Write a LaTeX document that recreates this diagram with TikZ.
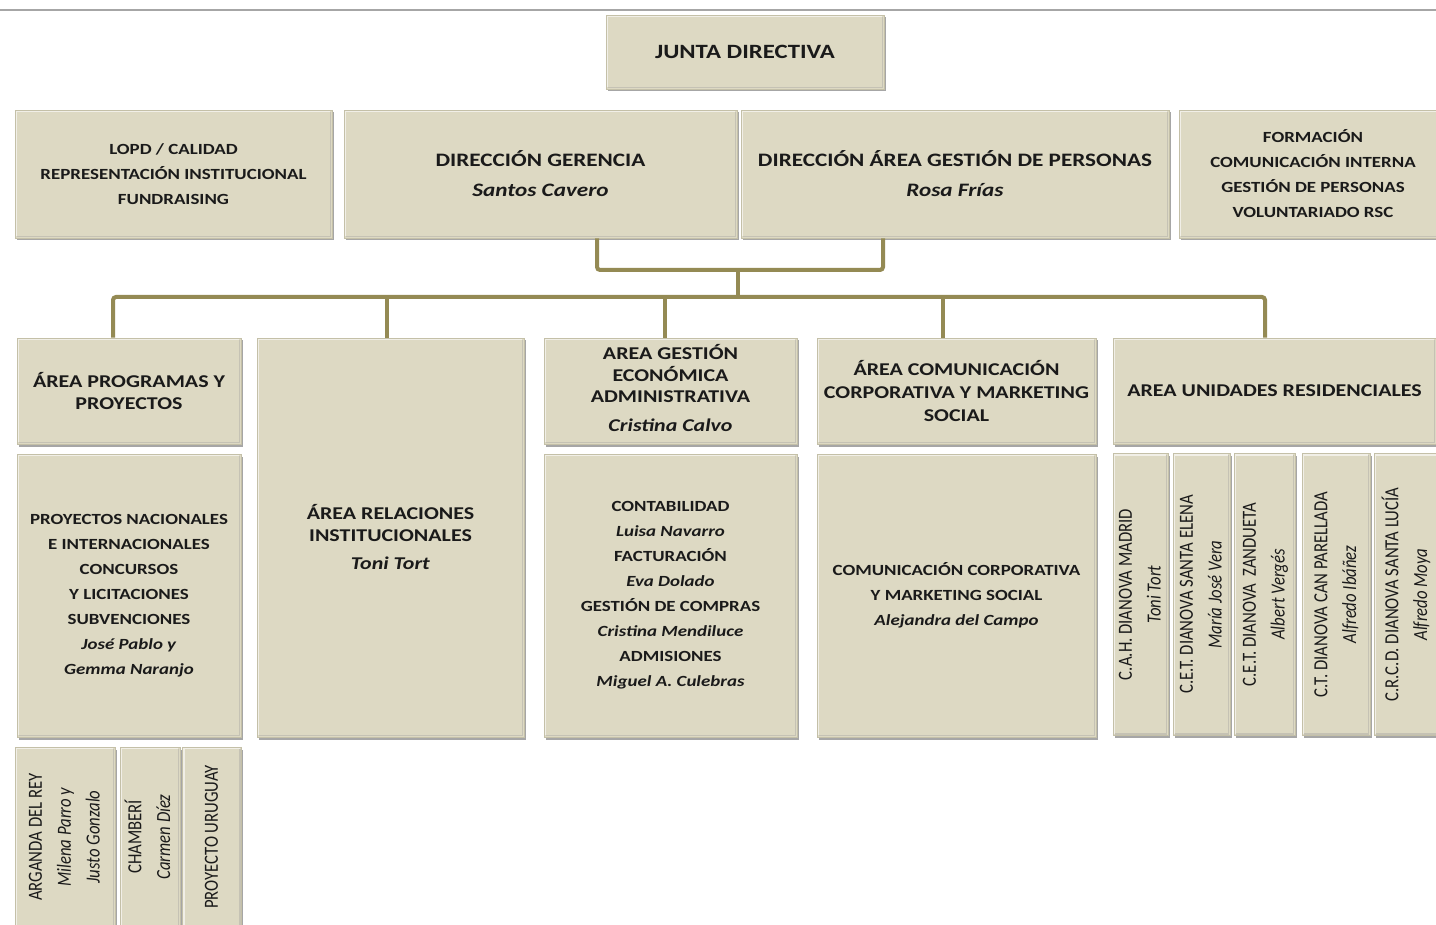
\documentclass[tikz,border=0pt]{standalone}
\usepackage{fontspec}
\usepackage{graphicx}
\setmainfont{Carlito}[FakeStretch=1.22]
\newfontfamily\vfont{Carlito}
\usetikzlibrary{shadows}
\definecolor{boxfill}{HTML}{DDD9C3}
\definecolor{boxline}{HTML}{C4C0A8}
\definecolor{connc}{HTML}{948A54}
\definecolor{topline}{HTML}{A6A6A6}
\definecolor{txt}{HTML}{1A1A1A}
\newcommand\fJ{\fontsize{20.3}{24}\selectfont\bfseries}
\newcommand\fBig{\fontsize{19}{30}\selectfont\bfseries}
\newcommand\fSm{\fontsize{15.5}{25}\selectfont\bfseries}
\newcommand\fMid{\fontsize{18}{21.5}\selectfont\bfseries}
\newcommand\vlab[1]{\scalebox{1.2}[1]{\rotatebox{90}{\vfont\fontsize{16.7}{24}\selectfont\begin{tabular}{@{}c@{}}#1\end{tabular}}}}
\begin{document}
\begin{tikzpicture}[x=1pt,y=-1pt,
  box/.style={rectangle, fill=boxfill, draw=boxline, line width=0.8pt, inner sep=0pt,
    align=center, text=txt,
    drop shadow={shadow xshift=1.5pt, shadow yshift=-2.5pt, fill=black, opacity=0.35}},
  vtext/.style={text=txt, inner sep=0pt},
  conn/.style={draw=connc, line width=4pt, rounded corners=3pt},
  bevL/.style={draw=white, opacity=0.6, line width=1.6pt},
  bevD/.style={draw=black!40, opacity=0.35, line width=1.2pt}]
\useasboundingbox (0,0) rectangle (1436,925);
\fill[white] (0,0) rectangle (1436,925);
\clip (0,0) rectangle (1436,925);
\coordinate (tl) at (0,10);
\coordinate (tr) at (1436,10);
\draw[topline, line width=1.2pt] (tl) -- (tr);

% top row
\node[box, minimum width=278pt, minimum height=74pt, font=\fJ] (jd) at (745,52) {JUNTA DIRECTIVA};
\node[box, minimum width=317pt, minimum height=128pt, font=\fSm] (lopd) at (173.5,174)
  {LOPD / CALIDAD\\REPRESENTACIÓN INSTITUCIONAL\\FUNDRAISING};
\node[box, minimum width=393pt, minimum height=128pt, font=\fBig] (dg) at (540.5,174)
  {DIRECCIÓN GERENCIA\\\textit{Santos Cavero}};
\node[box, minimum width=428pt, minimum height=128pt, font=\fBig] (dagp) at (955,174)
  {DIRECCIÓN ÁREA GESTIÓN DE PERSONAS\\\textit{Rosa Frías}};
\node[box, minimum width=268pt, minimum height=128pt, font=\fSm] (form) at (1313,174)
  {FORMACIÓN\\COMUNICACIÓN INTERNA\\GESTIÓN DE PERSONAS\\VOLUNTARIADO RSC};

% second row
\node[box, minimum width=224pt, minimum height=106pt, font=\fMid] (app) at (129,391)
  {ÁREA PROGRAMAS Y\\PROYECTOS};
\node[box, minimum width=267pt, minimum height=399pt, font=\fMid] (ari) at (390.5,537.5)
  {ÁREA RELACIONES\\INSTITUCIONALES\\[7pt]\textit{Toni Tort}};
\node[box, minimum width=253pt, minimum height=106pt, font=\fMid] (agea) at (670.5,391)
  {AREA GESTIÓN\\ECONÓMICA\\ADMINISTRATIVA\\[7pt]\textit{Cristina Calvo}\\[-15pt]\mbox{}};
\node[box, minimum width=279pt, minimum height=106pt, font=\fontsize{18}{23}\selectfont\bfseries] (acc) at (956.5,391)
  {ÁREA COMUNICACIÓN\\CORPORATIVA Y MARKETING\\SOCIAL};
\node[box, minimum width=323pt, minimum height=106pt, font=\fMid] (aur) at (1274.5,391)
  {AREA UNIDADES RESIDENCIALES};

% third row
\node[box, minimum width=224pt, minimum height=283pt, font=\fSm] (pnac) at (129,595.5)
  {PROYECTOS NACIONALES\\E INTERNACIONALES\\CONCURSOS\\Y LICITACIONES\\SUBVENCIONES\\\textit{José Pablo y}\\\textit{Gemma Naranjo}};
\node[box, minimum width=253pt, minimum height=283pt, font=\fSm] (cont) at (670.5,595.5)
  {CONTABILIDAD\\\textit{Luisa Navarro}\\FACTURACIÓN\\\textit{Eva Dolado}\\GESTIÓN DE COMPRAS\\\textit{Cristina Mendiluce}\\ADMISIONES\\\textit{Miguel A. Culebras}};
\node[box, minimum width=279pt, minimum height=283pt, font=\fSm] (ccorp) at (956.5,595.5)
  {COMUNICACIÓN CORPORATIVA\\Y MARKETING SOCIAL\\\textit{Alejandra del Campo}};

% residential units
\node[box, minimum width=55pt, minimum height=282pt] (v1) at (1140.5,594.5) {};
\node[box, minimum width=57pt, minimum height=282pt] (v2) at (1201.5,594.5) {};
\node[box, minimum width=61pt, minimum height=282pt] (v3) at (1264.5,594.5) {};
\node[box, minimum width=68pt, minimum height=282pt] (v4) at (1336,594.5) {};
\node[box, minimum width=66pt, minimum height=282pt] (v5) at (1407,594.5) {};
\node[vtext] (v1t) at (v1) {\vlab{C.A.H. DIANOVA MADRID\\\textit{Toni Tort}}};
\node[vtext] (v2t) at (v2) {\vlab{C.E.T. DIANOVA SANTA ELENA\\\textit{María José Vera}}};
\node[vtext] (v3t) at (v3) {\vlab{C.E.T. DIANOVA\hspace{0.4em}ZANDUETA\\\textit{Albert Vergés}}};
\node[vtext] (v4t) at (v4) {\vlab{C.T. DIANOVA CAN PARELLADA\\\textit{Alfredo Ibáñez}}};
\node[vtext] (v5t) at (v5) {\vlab{C.R.C.D. DIANOVA SANTA LUCÍA\\\textit{Alfredo Moya}}};

% bottom row
\node[box, minimum width=100pt, minimum height=180pt] (b1) at (65,837) {};
\node[box, minimum width=60pt, minimum height=180pt] (b2) at (150,837) {};
\node[box, minimum width=59pt, minimum height=180pt] (b3) at (212,837) {};
\node[vtext] (b1t) at (b1) {\vlab{ARGANDA DEL REY\\\textit{Milena Parro y}\\\textit{Justo Gonzalo}}};
\node[vtext] (b2t) at (b2) {\vlab{CHAMBERÍ\\\textit{Carmen Díez}}};
\node[vtext] (b3t) at (b3) {\vlab{PROYECTO URUGUAY}};

% bevel highlights
\foreach \n in {jd,lopd,dg,dagp,form,app,ari,agea,acc,aur,pnac,cont,ccorp,v1,v2,v3,v4,v5,b1,b2,b3}{
  \draw[bevL] ([shift={(2pt,2pt)}]\n.south west) |- ([shift={(-2pt,-2pt)}]\n.north east);
  \draw[bevD] ([shift={(2pt,2pt)}]\n.south west) -| ([shift={(-2pt,-2pt)}]\n.north east);
}

% connectors
\coordinate (j) at (738,270);
\coordinate (jb) at (738,297);
\coordinate (d1) at (113,297);
\coordinate (d2) at (387,297);
\coordinate (d3) at (665,297);
\coordinate (d4) at (943,297);
\coordinate (d5) at (1265,297);
\draw[conn] ([xshift=56.5pt]dg.south) |- (j) -| ([xshift=-72pt]dagp.south);
\draw[conn] (j) -- (jb);
\draw[conn] (d1 |- app.north) -- (d1) -- (d5) -- (d5 |- aur.north);
\draw[conn] (d2) -- (d2 |- ari.north);
\draw[conn] (d3) -- (d3 |- agea.north);
\draw[conn] (d4) -- (d4 |- acc.north);
\end{tikzpicture}
\end{document}
